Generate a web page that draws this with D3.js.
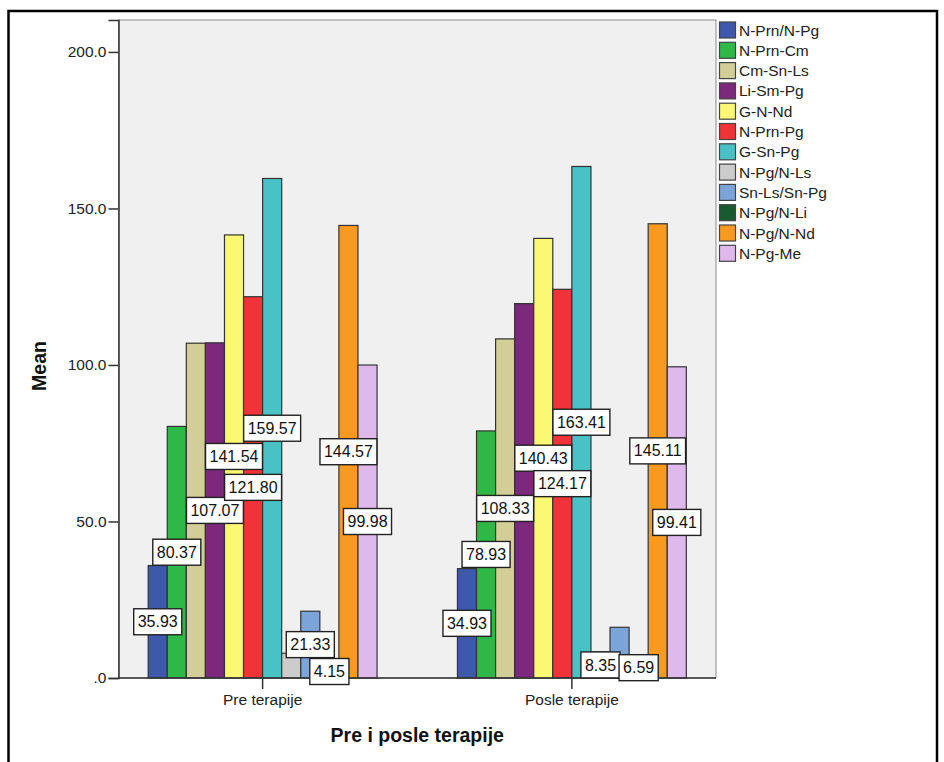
<!DOCTYPE html>
<html><head><meta charset="utf-8">
<script src="https://cdn.jsdelivr.net/npm/d3@7"></script>
<style>
body{margin:0;background:#fff;}
text{font-family:Arial,"Liberation Sans",sans-serif;}
</style></head>
<body><svg id="c" width="944" height="762"></svg>
<script>
const groups = ["Pre terapije", "Posle terapije"];
const seriesNames = ["N-Prn/N-Pg","N-Prn-Cm","Cm-Sn-Ls","Li-Sm-Pg","G-N-Nd","N-Prn-Pg","G-Sn-Pg","N-Pg/N-Ls","Sn-Ls/Sn-Pg","N-Pg/N-Li","N-Pg/N-Nd","N-Pg-Me"];
const preValues  = [35.93, 80.37, 106.95, 107.07, 141.54, 121.80, 159.57, 7.9, 21.33, 4.15, 144.57, 99.98];
const postValues = [34.93, 78.93, 108.33, 119.6, 140.43, 124.17, 163.41, 8.35, 16.2, 6.59, 145.11, 99.41];
// which value labels are visible (others are suppressed due to overlap in the original)
const preLabelShown  = [1,1,0,1,1,1,1,0,1,1,1,1];
const postLabelShown = [1,1,1,0,1,1,1,1,0,1,1,1];
const colors = ["#3e58ac","#2eb848","#d3ce97","#7c287d","#fbf873","#ef3338","#48c2c5","#cccccc","#7ba4d9","#195a30","#f89a20","#dfb8ec"];
const yTicks = [0, 50, 100, 150, 200];
const yTitle = "Mean";
const xTitle = "Pre i posle terapije";

const values = [preValues, postValues];
const shown = [preLabelShown, postLabelShown];

const svg = d3.select("#c");
const L = 118.5, R = 716, T = 20, B = 678;
const FS = 15.5;

// outer frame
svg.append("rect").attr("x", 8.5).attr("y", 11).attr("width", 928.5).attr("height", 800)
  .attr("fill", "none").attr("stroke", "#000").attr("stroke-width", 2.5);

const y = d3.scaleLinear().domain([0, 210.2]).range([B, T]);
const x0 = d3.scaleBand().domain(groups).range([L, R]).paddingInner(0.26).paddingOuter(0.096);
const x1 = d3.scaleBand().domain(seriesNames).range([0, x0.bandwidth()]);
const color = d3.scaleOrdinal().domain(seriesNames).range(colors);

// plot background
svg.append("rect").attr("x", L).attr("y", T).attr("width", R - L).attr("height", B - T)
  .attr("fill", "#f0f0f0").attr("stroke", "#8a8a8a").attr("stroke-width", 1);

// bars
const g = svg.append("g");
groups.forEach((grp, gi) => {
  g.selectAll(null).data(seriesNames.map((s, i) => ({s, v: values[gi][i]}))).enter()
    .append("rect")
    .attr("x", d => x0(grp) + x1(d.s))
    .attr("y", d => y(d.v))
    .attr("width", x1.bandwidth())
    .attr("height", d => y(0) - y(d.v))
    .attr("fill", d => color(d.s))
    .attr("stroke", "#333").attr("stroke-width", 1.2);
});

// axes
const yAxis = d3.axisLeft(y).tickValues(yTicks).tickSize(10).tickPadding(2)
  .tickFormat(d => d3.format(".1f")(d).replace(/^0\./, "."));
const ya = svg.append("g").attr("transform", `translate(${L},0)`).call(yAxis);
ya.select(".domain").attr("stroke", "#333").attr("stroke-width", 1.5);
ya.selectAll(".tick line").attr("stroke", "#333").attr("stroke-width", 1.5);
ya.selectAll(".tick text").attr("font-size", FS).attr("fill", "#222").attr("font-family", "Arial, 'Liberation Sans', sans-serif");

const xAxis = d3.axisBottom(x0).tickSize(11).tickPadding(5).tickSizeOuter(0);
const xa = svg.append("g").attr("transform", `translate(0,${B})`).call(xAxis);
xa.select(".domain").attr("stroke", "#333").attr("stroke-width", 1.5).attr("d", `M${L},0H${R}`);
xa.selectAll(".tick line").attr("stroke", "#333").attr("stroke-width", 1.5);
xa.selectAll(".tick text").attr("font-size", FS).attr("fill", "#222").attr("font-family", "Arial, 'Liberation Sans', sans-serif");

// value labels
groups.forEach((grp, gi) => {
  seriesNames.forEach((s, i) => {
    if (!shown[gi][i]) return;
    const v = values[gi][i];
    const cx = x0(grp) + x1(s) + x1.bandwidth() / 2;
    const cy = (y(v) + y(0)) / 2;
    const lg = svg.append("g");
    const r = lg.append("rect");
    const t = lg.append("text").attr("x", cx).attr("y", cy + FS * 0.36)
      .attr("text-anchor", "middle").attr("font-size", FS + 0.5).attr("fill", "#111")
      .text(d3.format(".2f")(v));
    const w = t.node().getComputedTextLength() + 8;
    const h = 26;
    r.attr("x", cx - w / 2).attr("y", cy - h / 2).attr("width", w).attr("height", h)
      .attr("fill", "#fff").attr("stroke", "#222").attr("stroke-width", 1.4);
  });
});

// legend
const lg = svg.append("g");
seriesNames.forEach((s, i) => {
  const yy = 22 + i * 20.3;
  lg.append("rect").attr("x", 719.5).attr("y", yy).attr("width", 16).attr("height", 16)
    .attr("fill", color(s)).attr("stroke", "#444").attr("stroke-width", 1.2);
  lg.append("text").attr("x", 739).attr("y", yy + 13.5).attr("font-size", FS).attr("fill", "#222").text(s);
});

// titles
svg.append("text").attr("x", (L + R) / 2).attr("y", 742).attr("text-anchor", "middle")
  .attr("font-size", 19.5).attr("font-weight", "bold").attr("fill", "#111").text(xTitle);
svg.append("text").attr("transform", `translate(46,${(T + B) / 2 + 17}) rotate(-90)`)
  .attr("text-anchor", "middle").attr("font-size", 19.5).attr("font-weight", "bold").attr("fill", "#111").text(yTitle);
</script></body></html>
